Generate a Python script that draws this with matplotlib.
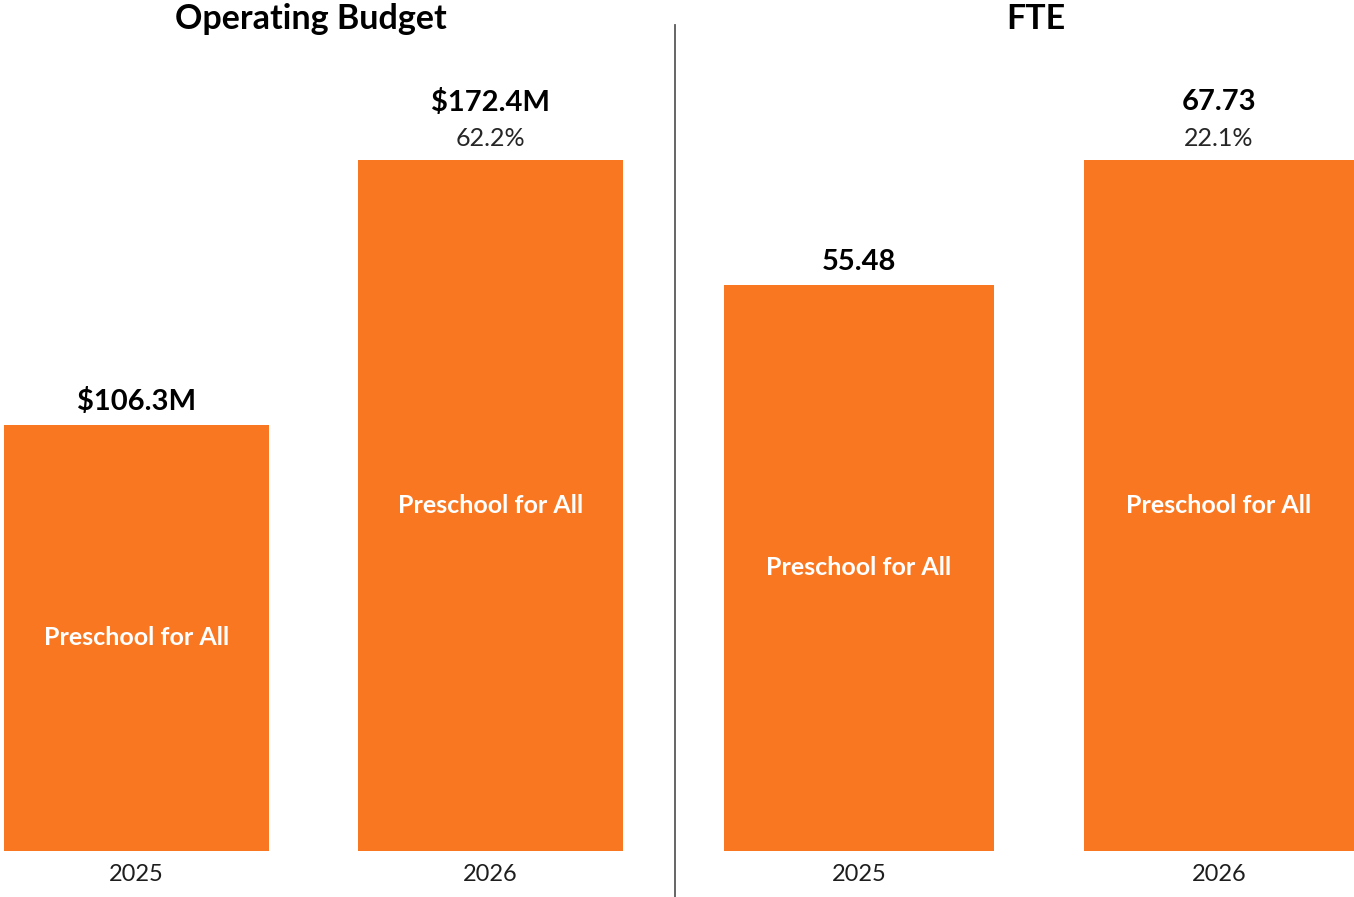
import matplotlib
matplotlib.use("Agg")
import matplotlib.pyplot as plt
from matplotlib.lines import Line2D

plt.rcParams['font.family'] = ['Lato', 'DejaVu Sans']

years = ["2025", "2026"]
budget = [106.3, 172.4]
budget_labels = ["$106.3M", "$172.4M"]
budget_pct = [None, "62.2%"]
fte = [55.48, 67.73]
fte_labels = ["55.48", "67.73"]
fte_pct = [None, "22.1%"]
program = "Preschool for All"
titles = ["Operating Budget", "FTE"]

BAR = "#FA7722"
W, H = 1354, 897
DPI = 100
fig = plt.figure(figsize=(W / DPI, H / DPI), dpi=DPI)

def px_axes(x0, x1, ytop, ybot):
    return [x0 / W, (H - ybot) / H, (x1 - x0) / W, (ybot - ytop) / H]

panels = [
    (px_axes(4, 623, 160, 851), budget, budget_labels, budget_pct, titles[0]),
    (px_axes(724, 1354, 160, 851), fte, fte_labels, fte_pct, titles[1]),
]

for rect, vals, labels, pcts, title in panels:
    ax = fig.add_axes(rect)
    xs = range(len(vals))
    ax.bar(xs, vals, width=0.75, color=BAR)
    ax.set_xlim(-0.375, 1.375)
    ax.set_ylim(0, max(vals))
    for s in ax.spines.values():
        s.set_visible(False)
    ax.set_yticks([])
    ax.set_xticks([])
    for i, v in enumerate(vals):
        ax.annotate(years[i], (i, 0), xytext=(0, -23 * 0.72), textcoords="offset points",
                    ha="center", va="center", fontsize=17, color="#1e1e1e",
                    annotation_clip=False)
        ax.text(i, v / 2, program, ha="center", va="center", fontsize=18,
                fontweight="bold", color="white")
        if pcts[i]:
            ax.annotate(pcts[i], (i, v), xytext=(0, 21 * 0.72), textcoords="offset points",
                        ha="center", va="center", fontsize=18, color="#262626",
                        annotation_clip=False)
            off = 58
        else:
            off = 23
        ax.annotate(labels[i], (i, v), xytext=(0, off * 0.72), textcoords="offset points",
                    ha="center", va="center", fontsize=21, fontweight="bold",
                    color="black", annotation_clip=False)
    cx = rect[0] + rect[2] / 2
    fig.text(cx - 3 / W, 1 - 19 / H, title, ha="center", va="center", fontsize=24.5,
             fontweight="bold", color="black")

fig.add_artist(Line2D([675 / W, 675 / W], [0, 1 - 25 / H], color="#595959", lw=1.3))

fig.savefig("out.png", dpi=DPI, facecolor="white")
